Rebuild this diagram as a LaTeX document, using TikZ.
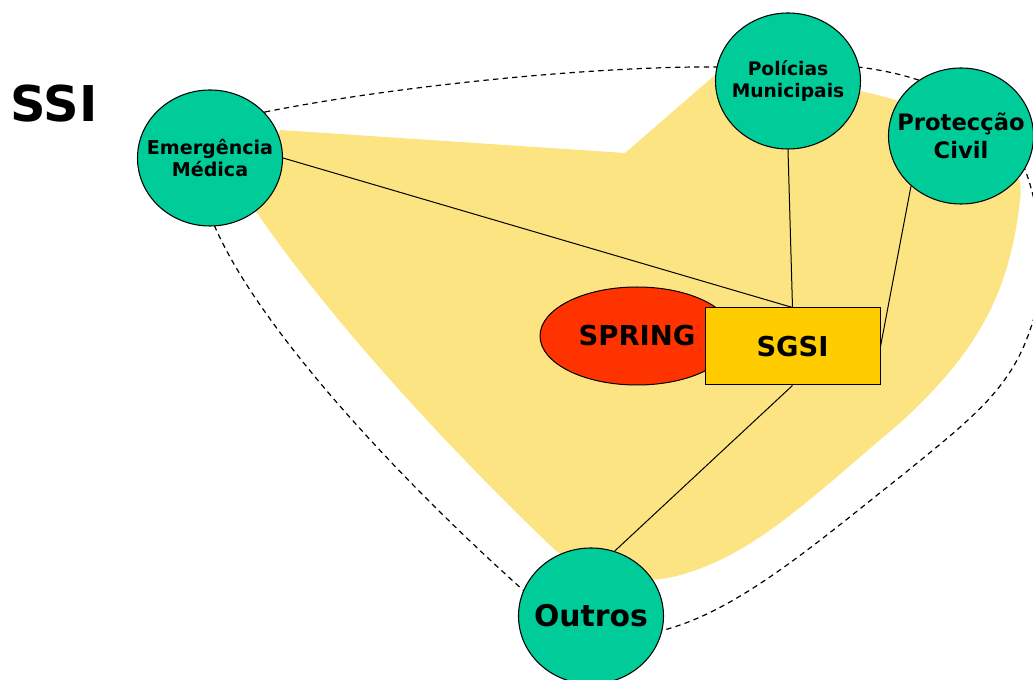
\documentclass[tikz,border=0pt]{standalone}
\usepackage{fontspec}
\setmainfont{DejaVu Sans}
\usetikzlibrary{shapes.geometric}
\pgfdeclarelayer{bg}
\pgfsetlayers{bg,main}
\definecolor{nodegreen}{HTML}{00CC99}
\definecolor{blobyellow}{HTML}{FDE483}
\definecolor{springred}{HTML}{FF3300}
\definecolor{sgsiyellow}{HTML}{FFCC00}
\begin{document}
\begin{tikzpicture}[x=0.75pt,y=-0.75pt,
  agency/.style={ellipse, draw, line width=0.8pt, fill=nodegreen, minimum width=108.75pt, minimum height=102pt, inner sep=0pt},
  agtext/.style={align=center, inner sep=0pt},
  link/.style={draw, line width=0.75pt},
  dashline/.style={draw, line width=0.9pt, dash pattern=on 4pt off 3.2pt}]
\useasboundingbox (0,0) rectangle (1033,680);
\clip (0,0) rectangle (1033,680);

\node[agency, label={[agtext, font=\fontsize{14.3}{17}\selectfont\bfseries]center:Emergência\\Médica}] (emerg) at (210,158) {};
\node[agency, label={[agtext, font=\fontsize{14}{17}\selectfont\bfseries]center:Polícias\\Municipais}] (pol) at (788,81) {};
\node[agency, label={[agtext, font=\fontsize{17}{21}\selectfont\bfseries]center:Protecção\\Civil}] (prot) at (961,136) {};
\node[agency, label={[agtext, font=\fontsize{22.4}{26}\selectfont\bfseries]center:Outros}] (outros) at (591,616) {};
\node[ellipse, draw, line width=0.75pt, fill=springred, minimum width=145.5pt, minimum height=73.5pt, inner sep=0pt, font=\fontsize{20.6}{24}\selectfont\bfseries] (spring) at (637,336) {SPRING};
\node[rectangle, draw, line width=0.75pt, fill=sgsiyellow, minimum width=131.25pt, minimum height=57.75pt, inner sep=0pt, font=\fontsize{20.5}{24}\selectfont\bfseries] (sgsi) at (792.5,346.5) {SGSI};
\node[font=\fontsize{37}{42}\selectfont\bfseries, inner sep=0pt] (ssi) at (54,104) {SSI};

\draw[link] (emerg.east) -- (sgsi.north);
\draw[link] (pol.south) -- (sgsi.north);
\draw[link] (prot.225) -- (sgsi.east);
\draw[link] (sgsi.south) -- (outros.70);

\begin{pgfonlayer}{bg}
\fill[blobyellow] (280,130) -- (625,153) -- (715,75) -- (790,80)
  .. controls (850,86) and (910,100) .. (960,125)
  .. controls (1005,145) and (1025,170) .. (1020,200)
  .. controls (1010,290) and (980,350) .. (900,423)
  .. controls (820,490) and (760,550) .. (690,572)
  .. controls (640,590) and (590,575) .. (555,550)
  .. controls (450,450) and (330,320) .. (255,210) -- cycle;
\draw[dashline] (265,112) .. controls (400,85) and (600,66) .. (716,67)
  .. controls (760,67) and (820,63) .. (858,67)
  .. controls (950,78) and (1010,120) .. (1028,178)
  .. controls (1045,230) and (1045,290) .. (1030,330)
  .. controls (1010,390) and (970,420) .. (900,477)
  .. controls (820,540) and (740,610) .. (664,630)
  .. controls (620,640) and (560,620) .. (523,590)
  .. controls (400,480) and (260,330) .. (215,227)
  .. controls (190,180) and (220,130) .. (265,112);
\end{pgfonlayer}
\end{tikzpicture}
\end{document}
